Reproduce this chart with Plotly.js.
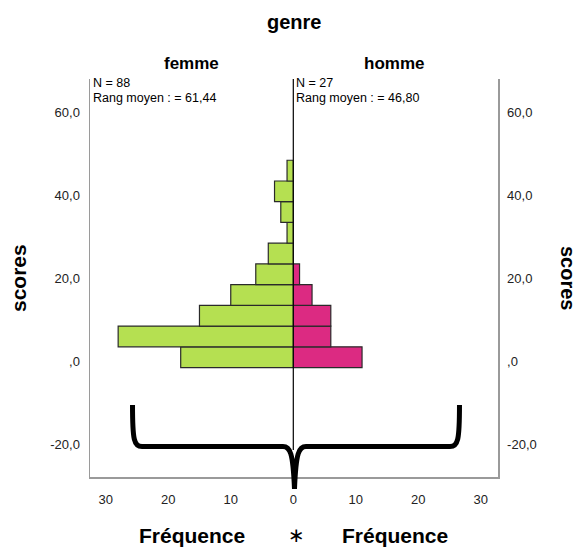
<!DOCTYPE html>
<html>
<head>
<meta charset="utf-8">
<script src="https://cdn.plot.ly/plotly-3.0.1.min.js"></script>
<style>html,body{margin:0;padding:0;background:#fff;}#chart{width:579px;height:547px;}</style>
</head>
<body>
<div id="chart"></div>
<script>
// ---- data ----
var binCenters = [1, 6, 11, 16, 21, 26, 31, 36, 41, 46];
var femmeCounts = [18, 28, 15, 10, 6, 4, 1, 2, 3, 1];
var hommeCounts = [11, 6, 6, 3, 1, 0, 0, 0, 0, 0];
var groupLabels = ['femme', 'homme'];
var groupN = [88, 27];
var groupRang = ['61,44', '46,80'];
var yTickVals = [-20, 0, 20, 40, 60];
var yTickText = ['-20,0', ',0', '20,0', '40,0', '60,0'];
var xTickVals = [0, 10, 20, 30];
var xTickValsRight = [10, 20, 30];

// ---- geometry helpers (plot-area pixel -> paper) ----
var L = 90, R = 81, T = 79, B = 70, W = 579 - L - R, H = 547 - T - B;
function px(x) { return (x - L) / W; }
function py(y) { return (547 - B - y) / H; }
var mid = px(293.3);

var font = 'Liberation Sans, Arial, sans-serif';
var yRange = [-27.9, 68.1];

var traces = [
  {type: 'bar', orientation: 'h', y: binCenters, x: femmeCounts, xaxis: 'x', yaxis: 'y',
   width: 5, marker: {color: '#b5e051', line: {color: '#2a2a2a', width: 1.2}}, hoverinfo: 'x+y'},
  {type: 'bar', orientation: 'h', y: binCenters, x: hommeCounts, xaxis: 'x2', yaxis: 'y2',
   width: 5, marker: {color: '#dc2a82', line: {color: '#2a2a2a', width: 1.2}}, hoverinfo: 'x+y'}
];

// brace path in pixel coordinates -> paper
var brace = [
  ['M', 132.5, 405], ['C', 132.5, 440, 134, 446.5, 142, 446.5],
  ['L', 283, 446.5], ['C', 290, 446.5, 293, 452, 294.5, 489],
  ['C', 296, 452, 299, 446.5, 306, 446.5],
  ['L', 450, 446.5], ['C', 458, 446.5, 459.5, 440, 459.5, 405]
];
var path = brace.map(function (s) {
  var out = s[0];
  for (var i = 1; i < s.length; i += 2) {
    out += ' ' + px(s[i]).toFixed(4) + ',' + py(s[i + 1]).toFixed(4);
  }
  return out;
}).join(' ');

function txt(text, x, y, size, opts) {
  var a = {text: text, xref: 'paper', yref: 'paper', x: px(x), y: py(y), showarrow: false, borderpad: 0,
           font: {size: size, color: '#000', family: font}, xanchor: 'center', yanchor: 'middle'};
  for (var k in (opts || {})) a[k] = opts[k];
  return a;
}

var layout = {
  width: 579, height: 547,
  margin: {l: L, r: R, t: T, b: B, pad: 0},
  paper_bgcolor: '#ffffff', plot_bgcolor: '#ffffff',
  showlegend: false,
  bargap: 0,
  font: {family: font, size: 13, color: '#222222'},
  xaxis: {domain: [0, mid], range: [32.5, 0], anchor: 'y', tickvals: xTickVals,
          showgrid: false, zeroline: false, showline: true, linecolor: '#9a9a9a', linewidth: 2,
          ticks: '', ticklabelstandoff: 9, tickfont: {size: 13, color: '#222'}},
  xaxis2: {domain: [mid, 1], range: [0, 32.75], anchor: 'y2', tickvals: xTickValsRight,
          showgrid: false, zeroline: false, showline: true, linecolor: '#9a9a9a', linewidth: 2,
          ticks: '', ticklabelstandoff: 9, tickfont: {size: 13, color: '#222'}},
  yaxis: {range: yRange, anchor: 'x', side: 'left', tickvals: yTickVals, ticktext: yTickText,
          showgrid: false, zeroline: false, showline: true, linecolor: '#9a9a9a', linewidth: 1.5,
          ticks: '', ticklabelstandoff: 6, tickfont: {size: 13, color: '#222'}},
  yaxis2: {range: yRange, anchor: 'x2', side: 'right', tickvals: yTickVals, ticktext: yTickText,
          showgrid: false, zeroline: false, showline: true, linecolor: '#9a9a9a', linewidth: 1.5,
          ticks: '', ticklabelstandoff: 5, tickfont: {size: 13, color: '#222'}},
  shapes: [
    {type: 'line', xref: 'paper', yref: 'paper', x0: mid, x1: mid, y0: py(450), y1: 1,
     line: {color: '#000000', width: 1.2}},
    {type: 'path', xref: 'paper', yref: 'paper', path: path,
     line: {color: '#000000', width: 5}, fillcolor: 'rgba(0,0,0,0)'}
  ],
  annotations: [
    txt('<b>genre</b>', 294, 22, 20),
    txt('<b>' + groupLabels[0] + '</b>', 191, 63, 17),
    txt('<b>' + groupLabels[1] + '</b>', 394, 63, 17),
    txt('N = ' + groupN[0], 92, 83, 12.5, {xanchor: 'left'}),
    txt('Rang moyen : = ' + groupRang[0], 92, 98, 12.5, {xanchor: 'left'}),
    txt('N = ' + groupN[1], 294.5, 83, 12.5, {xanchor: 'left'}),
    txt('Rang moyen : = ' + groupRang[1], 294.5, 98, 12.5, {xanchor: 'left'}),
    txt('<b>scores</b>', 18, 278, 21, {textangle: -90}),
    txt('<b>scores</b>', 568, 278, 20, {textangle: 90}),
    txt('<b>Fréquence</b>', 192, 535, 21),
    txt('<b>Fréquence</b>', 395, 535, 21),
    txt('∗', 296.5, 535, 20, {font: {size: 20, color: '#000', family: 'DejaVu Sans, sans-serif'}})
  ]
};

Plotly.newPlot('chart', traces, layout, {displayModeBar: false, staticPlot: true});
</script>
</body>
</html>
